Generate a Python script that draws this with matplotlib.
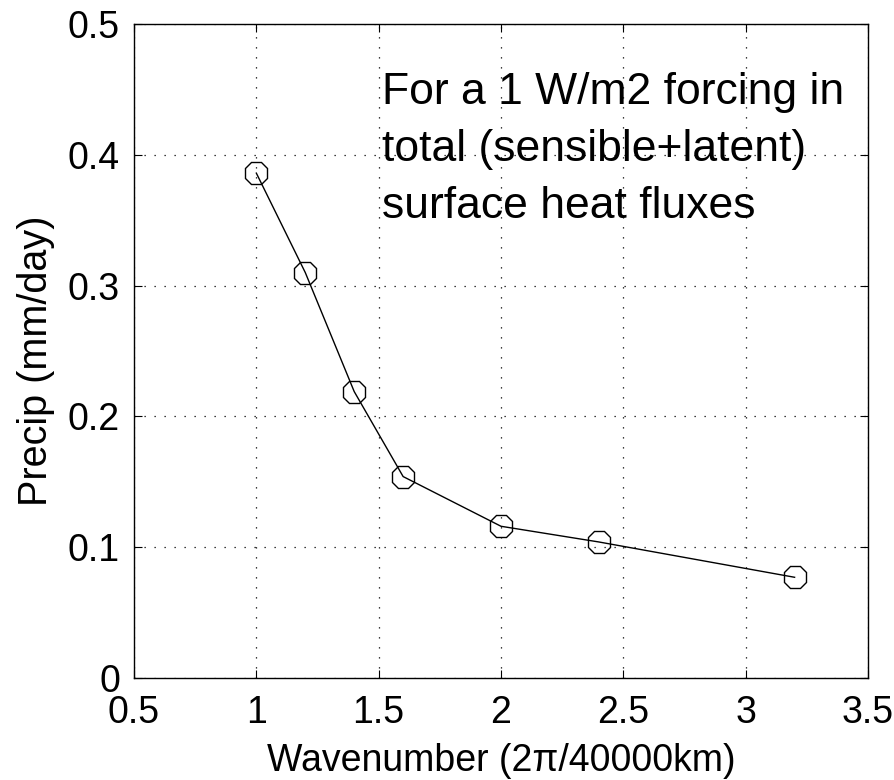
import matplotlib
matplotlib.use("Agg")
import matplotlib.pyplot as plt

wavenumber = [1.0, 1.2, 1.4, 1.6, 2.0, 2.4, 3.2]
precip = [0.386, 0.310, 0.219, 0.154, 0.116, 0.104, 0.077]
xticks = [0.5, 1, 1.5, 2, 2.5, 3, 3.5]
xtick_labels = ["0.5", "1", "1.5", "2", "2.5", "3", "3.5"]
yticks = [0, 0.1, 0.2, 0.3, 0.4, 0.5]
ytick_labels = ["0", "0.1", "0.2", "0.3", "0.4", "0.5"]

plt.rcParams['font.family'] = ['Liberation Sans', 'DejaVu Sans']

fig = plt.figure(figsize=(8.94, 7.8), dpi=100)
ax = fig.add_axes([134/894, 1-678/780, (868-134)/894, (678-24)/780])

ax.plot(wavenumber, precip, color='black', linewidth=1.0,
        marker='8', markersize=17, markerfacecolor='none',
        markeredgecolor='black', markeredgewidth=1.0)

ax.set_xlim(0.5, 3.5)
ax.set_ylim(0, 0.5)
ax.set_xticks(xticks)
ax.set_xticklabels(xtick_labels)
ax.set_yticks(yticks)
ax.set_yticklabels(ytick_labels)

ax.grid(True, color='black', linestyle=(0, (1, 7)), linewidth=0.9)
ax.tick_params(direction='in', length=6, width=0.8, top=True, right=True,
               labelsize=27)
ax.tick_params(axis='x', pad=12)
ax.tick_params(axis='y', pad=10)
for s in ax.spines.values():
    s.set_linewidth(1.0)

ax.set_xlabel("Wavenumber (2\u03c0/40000km)", fontsize=27, labelpad=9)
ax.set_ylabel("Precip (mm/day)", fontsize=28.5)
ax.yaxis.set_label_coords(-0.108, 0.485)

ax.text(1.515, 0.3517,
        "For a 1 W/m2 forcing in\ntotal (sensible+latent)\nsurface heat fluxes",
        fontsize=32, ha='left', va='baseline', linespacing=1.5)

fig.savefig("out.png", dpi=100)
